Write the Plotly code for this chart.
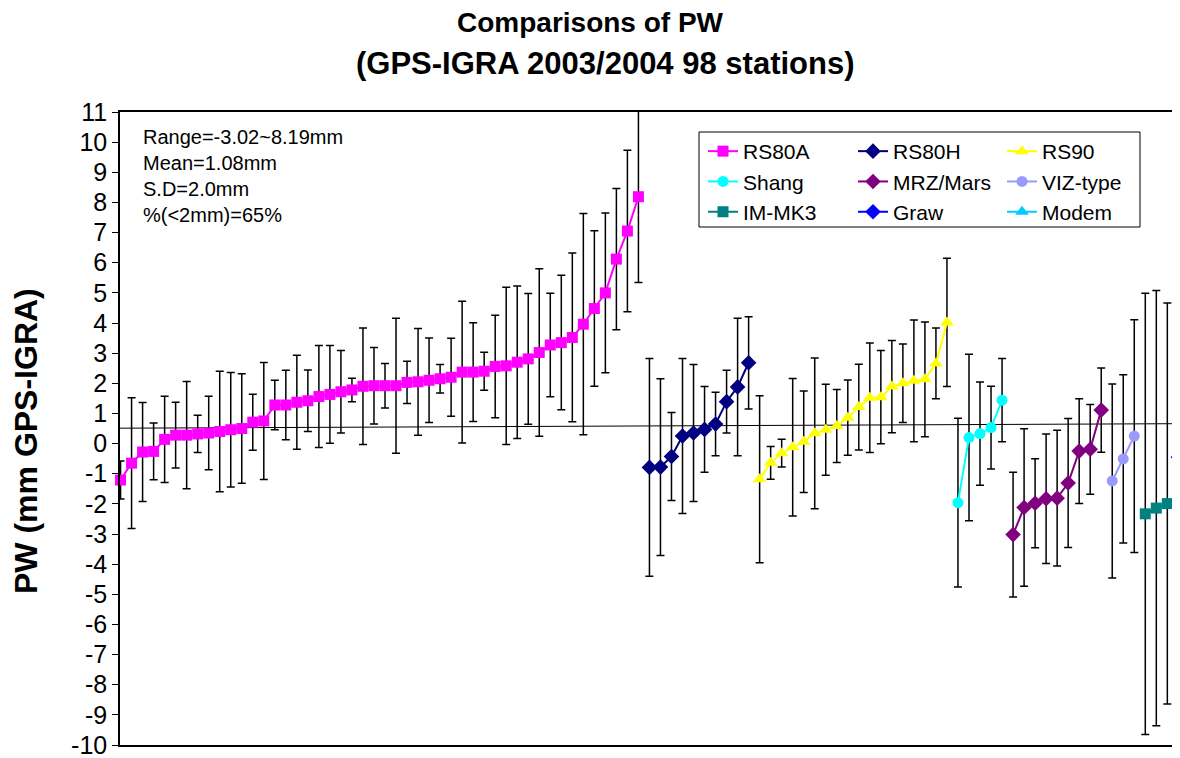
import plotly.graph_objects as go

# ---------------- data ----------------
rs80a_val = [-1.21, -0.65, -0.28, -0.26, 0.14, 0.28, 0.28, 0.32, 0.35, 0.40, 0.46, 0.50,
             0.71, 0.75, 1.28, 1.28, 1.37, 1.42, 1.56, 1.63, 1.72, 1.78, 1.90, 1.92,
             1.92, 1.92, 2.03, 2.05, 2.10, 2.15, 2.20, 2.37, 2.37, 2.40, 2.56, 2.58,
             2.70, 2.81, 3.02, 3.27, 3.35, 3.52, 3.96, 4.48, 5.00, 6.12, 7.05, 8.19]
rs80a_err = [0.63, 2.17, 1.64, 0.94, 1.43, 1.09, 1.78, 0.62, 1.22, 2.00, 1.90, 1.82,
             0.93, 1.94, 0.82, 1.15, 1.56, 1.02, 1.69, 1.62, 1.37, 0.39, 1.93, 1.27,
             0.74, 2.24, 0.70, 1.77, 1.40, 0.47, 1.29, 2.35, 1.64, 0.63, 1.70, 2.61,
             2.53, 2.17, 2.78, 1.72, 2.23, 2.80, 3.67, 2.58, 2.65, 2.34, 2.68, 2.85]

rs80h_val = [-0.79, -0.78, -0.43, 0.25, 0.35, 0.47, 0.65, 1.39, 1.88, 2.68]
rs80h_err = [3.61, 2.93, 1.46, 2.57, 2.27, 1.42, 1.05, 1.04, 2.28, 1.53]

rs90_val = [-1.18, -0.64, -0.32, -0.12, 0.06, 0.34, 0.46, 0.58, 0.86, 1.21,
            1.52, 1.54, 1.89, 2.00, 2.08, 2.13, 2.66, 4.02]
rs90_err = [2.77, 0.54, 0.46, 2.28, 1.68, 2.50, 1.51, 1.21, 1.25, 1.42,
            1.82, 1.55, 1.53, 1.30, 2.02, 1.90, 1.17, 2.13]

shang_val = [-1.96, 0.20, 0.33, 0.53, 1.44]
shang_err = [2.80, 2.76, 1.71, 1.37, 1.38]

mrz_val = [-3.02, -2.12, -1.98, -1.83, -1.81, -1.31, -0.25, -0.19, 1.11]
mrz_err = [2.07, 2.61, 1.48, 2.15, 2.25, 2.14, 1.74, 1.49, 1.40]

viz_val = [-1.24, -0.51, 0.25]
viz_err = [3.22, 2.79, 3.86]

immk3_val = [-2.33, -2.14, -1.99]
immk3_err = [7.32, 7.22, 6.65]

graw_val = [-0.45]
graw_err = [2.70]

modem_val = []
modem_err = []

ref_line_x = [-0.05, 96.15]
ref_line_y = [0.51, 0.66]

y_ticks = list(range(-10, 12))

# name, values, errors, colour, symbol, size, legend column
series = [
    ("RS80A", rs80a_val, rs80a_err, "#FF00FF", "square", 11, "legend"),
    ("RS80H", rs80h_val, rs80h_err, "#000080", "diamond", 12, "legend2"),
    ("RS90", rs90_val, rs90_err, "#FFFF00", "triangle-up", 12, "legend3"),
    ("Shang", shang_val, shang_err, "#00FFFF", "circle", 11, "legend"),
    ("MRZ/Mars", mrz_val, mrz_err, "#800080", "diamond", 12, "legend2"),
    ("VIZ-type", viz_val, viz_err, "#9999FF", "circle", 11, "legend3"),
    ("IM-MK3", immk3_val, immk3_err, "#008080", "square", 11, "legend"),
    ("Graw", graw_val, graw_err, "#0000FF", "diamond", 12, "legend2"),
    ("Modem", modem_val, modem_err, "#00CCFF", "triangle-up", 12, "legend3"),
]

FONT = "Liberation Sans, Arial, sans-serif"

# page geometry (screen pixels; the page body has an 8px margin)
PL, PR, PT, PB = 120, 1180, 112, 745


def px(sx):
    return (sx - PL) / (PR - PL)


def py(sy):
    return (PB - sy) / (PB - PT)


fig = go.Figure()

fig.add_trace(go.Scatter(x=ref_line_x, y=ref_line_y, mode="lines",
                         line=dict(color="black", width=1), showlegend=False,
                         hoverinfo="skip"))

start = 0
for name, vals, errs, color, sym, size, leg in series:
    xs = list(range(start, start + len(vals)))
    start += len(vals)
    if not vals:
        xs, vals, errs = [None], [None], [0]
    fig.add_trace(go.Scatter(
        x=xs, y=vals, name=name, mode="lines+markers", legend=leg,
        cliponaxis=False,
        line=dict(color=color, width=2),
        marker=dict(symbol=sym, size=size, color=color, line=dict(width=0)),
        error_y=dict(type="data", array=errs, visible=True, color="black",
                     thickness=1.5, width=4),
    ))

fig.add_annotation(
    xref="paper", yref="paper", x=px(141), y=py(124),
    xanchor="left", yanchor="top", align="left", showarrow=False,
    text="Range=-3.02~8.19mm<br>Mean=1.08mm<br>S.D=2.0mm<br>%(<2mm)=65%",
    font=dict(family=FONT, size=20, color="black"))

fig.add_annotation(xref="paper", yref="paper", x=px(590), y=py(23),
                   xanchor="center", yanchor="middle", showarrow=False,
                   text="<b>Comparisons of PW</b>",
                   font=dict(family=FONT, size=28, color="black"))
fig.add_annotation(xref="paper", yref="paper", x=px(605), y=py(63),
                   xanchor="center", yanchor="middle", showarrow=False,
                   text="<b>(GPS-IGRA 2003/2004 98 stations)</b>",
                   font=dict(family=FONT, size=31, color="black"))
fig.add_annotation(xref="paper", yref="paper", x=px(26), y=py(441),
                   xanchor="center", yanchor="middle", showarrow=False, textangle=-90,
                   text="<b>PW (mm GPS-IGRA)</b>",
                   font=dict(family=FONT, size=32, color="black"))

# legend frame
fig.add_shape(type="rect", xref="paper", yref="paper",
              x0=px(699), x1=px(1140), y0=py(227), y1=py(132),
              line=dict(color="black", width=1), fillcolor="rgba(0,0,0,0)", layer="above")

leg_common = dict(orientation="v", xanchor="left", yanchor="top", y=py(131),
                  bgcolor="rgba(0,0,0,0)", borderwidth=0, tracegroupgap=0,
                  font=dict(family=FONT, size=21, color="black"))

fig.update_layout(
    width=1172, height=750,
    margin=dict(l=112, r=0, t=104, b=13),
    paper_bgcolor="white", plot_bgcolor="white",
    font=dict(family=FONT, color="black"),
    legend=dict(x=px(703), **leg_common),
    legend2=dict(x=px(853), **leg_common),
    legend3=dict(x=px(1002), **leg_common),
    xaxis=dict(range=[-0.05, 96.15], showgrid=False, zeroline=False, showticklabels=False,
               ticks="", showline=True, linecolor="black", linewidth=2, mirror=True),
    yaxis=dict(range=[-10, 11], tickvals=y_ticks, ticktext=[str(v) for v in y_ticks],
               showgrid=False, zeroline=False, ticks="outside", ticklen=6,
               tickcolor="black", showline=True, linecolor="black", linewidth=1.5,
               ticklabeloverflow="allow",
               tickfont=dict(family=FONT, size=25, color="black")),
)

fig.write_html("out.html")
